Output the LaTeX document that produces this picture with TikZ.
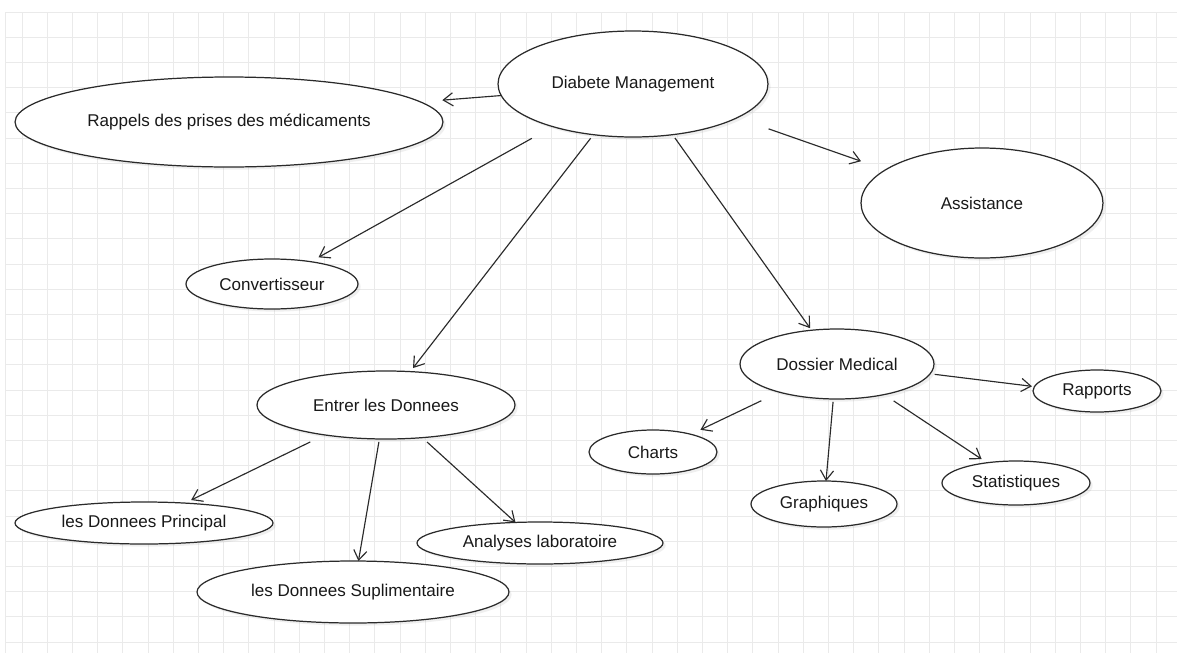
\documentclass[tikz,border=0pt]{standalone}
\usepackage{fontspec}
\setmainfont{Liberation Sans}
\usetikzlibrary{shapes.geometric}
\usetikzlibrary{shadows}
\usetikzlibrary{arrows.meta}
\definecolor{lineagris}{HTML}{2A2A2A}
\definecolor{cuadricula}{HTML}{EAEAEA}

\tikzset{
	caso/.style={ellipse, draw=lineagris, line width=0.7pt, fill=white, inner sep=0pt, outer sep=0pt,
		text=black!90, font=\fontsize{9.7}{11}\selectfont,
		drop shadow={shadow xshift=1.5pt, shadow yshift=-1.5pt, opacity=0.12}},
	flecha/.style={draw=lineagris, line width=0.65pt, -{Straight Barb[length=5.5pt,width=7.5pt]}}
}

\begin{document}
\begin{tikzpicture}[x=0.02cm, y=-0.02cm]
		\useasboundingbox[fill=white] (0,0) rectangle (1177,653);
		
		% Cuadricula de fondo
		\foreach \i in {0,1,...,45} {
			\pgfmathsetmacro{\gx}{22+25.2*\i}
			\draw[cuadricula, line width=0.5pt] (\gx,12) -- (\gx,653);
		}
		\foreach \j in {0,1,...,25} {
			\pgfmathsetmacro{\gy}{12+25.2*\j}
			\draw[cuadricula, line width=0.5pt] (5,\gy) -- (1177,\gy);
		}
		\draw[cuadricula, line width=0.5pt] (5,12) -- (5,653);
		
		% Casos de uso
		\node[caso, minimum width=5.40cm, minimum height=2.12cm] (dm) at (633,84) {Diabete Management};
		\node[caso, minimum width=8.56cm, minimum height=1.80cm] (rap) at (229,122) {Rappels des prises des médicaments};
		\node[caso, minimum width=4.84cm, minimum height=2.20cm] (asst) at (982,203) {Assistance};
		\node[caso, minimum width=3.44cm, minimum height=1.00cm] (conv) at (272,284) {Convertisseur};
		\node[caso, minimum width=5.16cm, minimum height=1.36cm] (ent) at (386,405) {Entrer les Donnees};
		\node[caso, minimum width=5.16cm, minimum height=0.84cm] (prin) at (144,523) {les Donnees Principal};
		\node[caso, minimum width=6.24cm, minimum height=1.24cm] (supl) at (353,592) {les Donnees Suplimentaire};
		\node[caso, minimum width=4.92cm, minimum height=0.84cm] (anal) at (540,543) {Analyses laboratoire};
		\node[caso, minimum width=3.88cm, minimum height=1.40cm] (dos) at (837,364) {Dossier Medical};
		\node[caso, minimum width=2.56cm, minimum height=0.84cm] (rapp) at (1097,391) {Rapports};
		\node[caso, minimum width=2.56cm, minimum height=0.88cm] (charts) at (653,452) {Charts};
		\node[caso, minimum width=2.92cm, minimum height=0.92cm] (graph) at (824,504) {Graphiques};
		\node[caso, minimum width=2.96cm, minimum height=0.88cm] (stat) at (1016,483) {Statistiques};
		
		% Flechas: origen / destino / recorte inicio / recorte final
		\foreach \a/\b/\s/\e in {dm.185/rap.6/0/0.44, dm.342/asst.161/0.67/0.52, dm.208/conv.30/0.48/0.18,
			dm.232/ent.54/0.09/0.09, dm.308/dos.127/0.08/0.05, dos.354/rapp.176/0.09/0.05,
			dos.206/charts.25/0.40/0.21, dos.264/graph.85/0.06/0, dos.327/stat.145/0.23/0.13,
			ent.206/prin.26/0.32/0.14, ent.259/supl.80/0.06/0, ent.318/anal.140/0.13/0} {
			\draw[flecha, shorten <=\s cm, shorten >=\e cm] (\a) -- (\b);
		}
	\end{tikzpicture}
\end{document}
